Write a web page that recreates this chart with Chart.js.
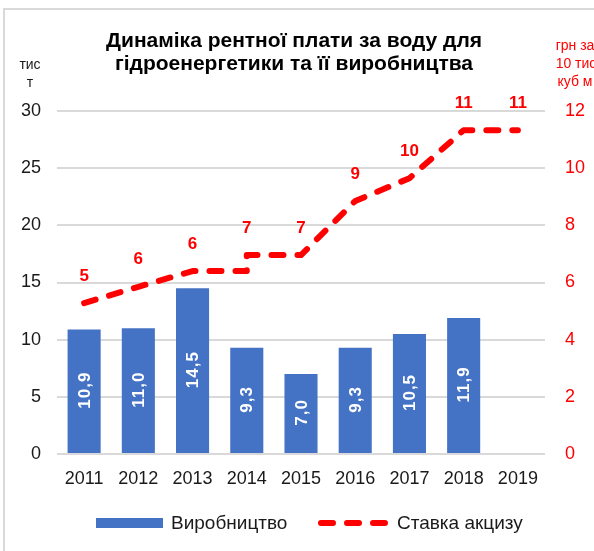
<!DOCTYPE html>
<html>
<head>
<meta charset="utf-8">
<style>
  html, body { margin: 0; padding: 0; background: #fff; }
  #c { display: block; }
</style>
<script src="https://cdn.jsdelivr.net/npm/chart.js@4/dist/chart.umd.min.js"></script>
</head>
<body>
<canvas id="c" width="594" height="551"></canvas>
<script>
// ---- data ----
const categories = ['2011', '2012', '2013', '2014', '2015', '2016', '2017', '2018', '2019'];
const production = [10.9, 11.0, 14.5, 9.3, 7.0, 9.3, 10.5, 11.9, null];   // тис т
const rate = [5.28, 5.85, 6.4, 6.96, 6.96, 8.85, 9.65, 11.33, 11.33];   // грн за 10 тис куб м
const rateLabels = ['5', '6', '6', '7', '7', '9', '10', '11', '11'];
const stepYears = ['2014'];      // the rate jumps vertically at these years
const leftTicks = [0, 5, 10, 15, 20, 25, 30];
const rightTicks = [0, 2, 4, 6, 8, 10, 12];
const titleLines = ['Динаміка рентної плати за воду для', 'гідроенергетики та її виробництва'];
const leftAxisTitle = ['тис', 'т'];
const rightAxisTitle = ['грн за', '10 тис', 'куб м'];
const seriesNames = ['Виробництво', 'Ставка акцизу'];

// line points (with an extra point where the rate steps up)
const linePoints = [];
categories.forEach((c, i) => {
  if (stepYears.includes(c) && i > 0) linePoints.push({ x: c, y: rate[i - 1] });
  linePoints.push({ x: c, y: rate[i] });
});

const BLUE = '#4472C4';
const RED = '#FF0000';
const FONT = '"Liberation Sans", Arial, sans-serif';

const decor = {
  id: 'decor',
  beforeDraw(chart) {
    const ctx = chart.ctx;
    ctx.save();
    ctx.fillStyle = '#fff';
    ctx.fillRect(0, 0, chart.width, chart.height);
    ctx.strokeStyle = '#d9d9d9';
    ctx.lineWidth = 2;
    ctx.strokeRect(4, 9, 800, 800);
    ctx.restore();
  },
  afterDatasetsDraw(chart) {
    const ctx = chart.ctx;
    const xs = chart.scales.x, yr = chart.scales.y1;
    ctx.save();
    // bar value labels
    const barMeta = chart.getDatasetMeta(1);
    ctx.fillStyle = '#fff';
    ctx.font = 'bold 17px ' + FONT;
    ctx.textAlign = 'center';
    ctx.textBaseline = 'middle';
    barMeta.data.forEach((el, i) => {
      const v = production[i];
      if (v === null || v === undefined) return;
      const cy = (el.y + el.base) / 2;
      ctx.save();
      ctx.translate(el.x, cy);
      ctx.rotate(-Math.PI / 2);
      try { ctx.letterSpacing = '1px'; } catch (e) {}
      ctx.fillText(v.toFixed(1).replace('.', ','), 1, 1);
      ctx.restore();
    });
    // line value labels
    ctx.fillStyle = RED;
    ctx.font = 'bold 17px ' + FONT;
    categories.forEach((c, i) => {
      const x = xs.getPixelForValue(i);
      const y = yr.getPixelForValue(rate[i]);
      ctx.fillText(rateLabels[i], x, y - 27);
    });
    ctx.restore();
  },
  afterDraw(chart) {
    const ctx = chart.ctx;
    ctx.save();
    // title
    ctx.fillStyle = '#000';
    ctx.font = 'bold 21px ' + FONT;
    ctx.textAlign = 'center';
    ctx.textBaseline = 'middle';
    ctx.fillText(titleLines[0], 294, 41);
    ctx.fillText(titleLines[1], 294, 64);
    // axis titles
    ctx.fillStyle = '#1a1a1a';
    ctx.font = '14px ' + FONT;
    ctx.fillText(leftAxisTitle[0], 30, 65);
    ctx.fillText(leftAxisTitle[1], 30, 83);
    ctx.fillStyle = RED;
    ctx.font = '14px ' + FONT;
    ctx.fillText(rightAxisTitle[0], 575, 46);
    ctx.fillText(rightAxisTitle[1], 576, 64);
    ctx.fillText(rightAxisTitle[2], 575, 82);
    // legend
    const ly = 523;
    ctx.fillStyle = BLUE;
    ctx.fillRect(96, ly - 5, 67, 10);
    ctx.fillStyle = '#1a1a1a';
    ctx.font = '19px ' + FONT;
    ctx.textAlign = 'left';
    ctx.fillText(seriesNames[0], 171, ly + 1);
    ctx.strokeStyle = RED;
    ctx.lineWidth = 6;
    ctx.lineCap = 'round';
    ctx.setLineDash([12, 14]);
    ctx.beginPath();
    ctx.moveTo(321, ly);
    ctx.lineTo(388, ly);
    ctx.stroke();
    ctx.setLineDash([]);
    ctx.fillText(seriesNames[1], 397, ly + 1);
    ctx.restore();
  }
};

new Chart(document.getElementById('c'), {
  data: {
    labels: categories,
    datasets: [
      {
        type: 'line',
        label: seriesNames[1],
        data: linePoints,
        yAxisID: 'y1',
        borderColor: RED,
        borderWidth: 6,
        borderDash: [12, 14],
        borderCapStyle: 'round',
        borderJoinStyle: 'round',
        pointRadius: 0,
        fill: false,
        tension: 0,
        order: 0
      },
      {
        type: 'bar',
        label: seriesNames[0],
        data: production,
        yAxisID: 'y',
        backgroundColor: BLUE,
        borderWidth: 0,
        barPercentage: 0.61,
        categoryPercentage: 1.0,
        order: 1
      }
    ]
  },
  options: {
    responsive: false,
    animation: false,
    devicePixelRatio: 1,
    layout: { padding: { top: 111, left: 0, right: 0, bottom: 0 } },
    plugins: {
      legend: { display: false },
      title: { display: false },
      tooltip: { enabled: false }
    },
    scales: {
      x: {
        type: 'category',
        offset: true,
        grid: { display: false, drawTicks: false },
        border: { display: false },
        ticks: { color: '#1a1a1a', font: { size: 18, family: FONT }, padding: 14, maxRotation: 0 },
        afterFit(s) { s.height = 97; }
      },
      y: {
        position: 'left',
        min: leftTicks[0],
        max: leftTicks[leftTicks.length - 1],
        afterBuildTicks(s) { s.ticks = leftTicks.map(v => ({ value: v })); },
        grid: { color: '#d9d9d9', lineWidth: 2, drawTicks: false },
        border: { display: false },
        ticks: { color: '#1a1a1a', font: { size: 18, family: FONT }, padding: 16 },
        afterFit(s) { s.width = 57; }
      },
      y1: {
        position: 'right',
        min: rightTicks[0],
        max: rightTicks[rightTicks.length - 1],
        afterBuildTicks(s) { s.ticks = rightTicks.map(v => ({ value: v })); },
        grid: { display: false, drawTicks: false },
        border: { display: false },
        ticks: { color: RED, font: { size: 18, family: FONT }, padding: 20 },
        afterFit(s) { s.width = 49; }
      }
    }
  },
  plugins: [decor]
});
</script>
</body>
</html>
